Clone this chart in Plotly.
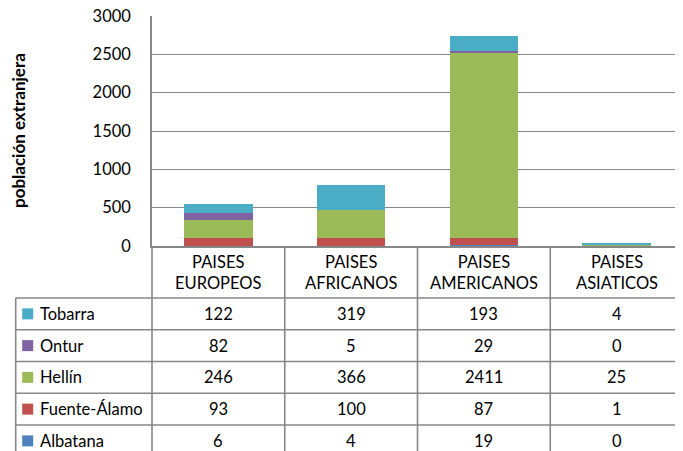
import plotly.graph_objects as go

# ---------------- data ----------------
categories = ["PAISES EUROPEOS", "PAISES AFRICANOS", "PAISES AMERICANOS", "PAISES ASIATICOS"]
series_names = ["Albatana", "Fuente-Álamo", "Hellín", "Ontur", "Tobarra"]  # bottom -> top
albatana = [6, 4, 19, 0]
fuente_alamo = [93, 100, 87, 1]
hellin = [246, 366, 2411, 25]
ontur = [82, 5, 29, 0]
tobarra = [122, 319, 193, 4]
y_ticks = [0, 500, 1000, 1500, 2000, 2500, 3000]
y_title = "población extranjera"

series_values = [albatana, fuente_alamo, hellin, ontur, tobarra]

# ---------------- style / layout ----------------
colors = ["#4F81BD", "#C0504D", "#9BBB59", "#8064A2", "#4BACC6"]
PAGE_OFFSET = 8          # default body margin of the html page
W, H = 683 - PAGE_OFFSET, 451 - PAGE_OFFSET
ML, MR, MT, MB = 152 - PAGE_OFFSET, 0, 16 - PAGE_OFFSET, 205
PH = H - MT - MB
PW = W - ML - MR
FONT = "Lato"
FS = 16.5
GRID = "#878787"
TXT = "#000000"
HEADER_H = 52
ROW_H = 31.75
LEGEND_LEFT = -136.3   # px relative to plot left edge
KEY_X = -124.3
LABEL_X = -114.3
TITLE_X = -134         # px relative to plot left edge


def py(p):
    """pixel offset below the x axis -> paper y"""
    return -p / PH


def px(p):
    """pixel offset from plot left edge -> paper x"""
    return p / PW


fig = go.Figure()
for name, vals, col in zip(series_names, series_values, colors):
    fig.add_trace(go.Bar(x=categories, y=vals, name=name,
                         marker=dict(color=col, line=dict(width=0))))

shapes = []
annotations = []
line_style = dict(color=GRID, width=1.6)
bottom = 215

# horizontal table lines (header bottom and row separators)
n_rows = len(series_names)
for k in range(n_rows):
    yy = py(HEADER_H + ROW_H * k)
    shapes.append(dict(type="line", xref="paper", yref="paper",
                       x0=px(LEGEND_LEFT), x1=1, y0=yy, y1=yy, line=line_style, layer="above"))
# legend column left border
shapes.append(dict(type="line", xref="paper", yref="paper",
                   x0=px(LEGEND_LEFT), x1=px(LEGEND_LEFT), y0=py(HEADER_H), y1=py(bottom),
                   line=line_style, layer="above"))
# vertical line below y axis
shapes.append(dict(type="line", xref="paper", yref="paper",
                   x0=0, x1=0, y0=0, y1=py(bottom), line=line_style, layer="above"))
# category column borders
for i in range(len(categories) - 1):
    shapes.append(dict(type="line", xref="x", yref="paper",
                       x0=i + 0.5, x1=i + 0.5, y0=0, y1=py(bottom), line=line_style, layer="above"))

# header texts
for c in categories:
    annotations.append(dict(x=c, xref="x", y=py(HEADER_H / 2), yref="paper",
                            text=c.replace(" ", "<br>"), showarrow=False,
                            font=dict(family=FONT, size=FS, color=TXT),
                            xanchor="center", yanchor="middle", align="center"))

# table rows: top row is the top series
for r, idx in enumerate(reversed(range(len(series_names)))):
    yc = py(HEADER_H + ROW_H * (r + 0.5))
    shapes.append(dict(type="rect", xref="paper", yref="paper",
                       xsizemode="pixel", ysizemode="pixel",
                       xanchor=px(KEY_X), yanchor=yc, x0=-5.5, x1=5.5, y0=-5.5, y1=5.5,
                       fillcolor=colors[idx], line=dict(width=0), layer="above"))
    annotations.append(dict(x=px(LABEL_X), xref="paper", y=yc, yref="paper",
                            text=series_names[idx], showarrow=False,
                            font=dict(family=FONT, size=FS, color=TXT),
                            xanchor="left", yanchor="middle"))
    for c, v in zip(categories, series_values[idx]):
        annotations.append(dict(x=c, xref="x", y=yc, yref="paper",
                                text=str(v), showarrow=False,
                                font=dict(family=FONT, size=FS, color=TXT),
                                xanchor="center", yanchor="middle"))

# y axis title
annotations.append(dict(x=px(TITLE_X), xref="paper", y=0.5, yref="paper",
                        text="<b>" + y_title + "</b>", textangle=-90, showarrow=False,
                        font=dict(family=FONT, size=17, color=TXT),
                        xanchor="center", yanchor="middle"))

fig.update_layout(
    template="none",
    width=W, height=H,
    margin=dict(l=ML, r=MR, t=MT, b=MB, autoexpand=False),
    barmode="stack",
    bargap=0.484,
    showlegend=False,
    plot_bgcolor="white",
    paper_bgcolor="white",
    font=dict(family=FONT, size=FS, color=TXT),
    shapes=shapes,
    annotations=annotations,
    xaxis=dict(type="category", categoryorder="array", categoryarray=categories,
               range=[-0.5, len(categories) - 0.5], showticklabels=False,
               showline=True, linecolor=GRID, linewidth=1.6, showgrid=False,
               ticks="", zeroline=False),
    yaxis=dict(range=[0, 3000], tickvals=y_ticks, ticktext=[str(t) for t in y_ticks],
               showline=True, linecolor=GRID, linewidth=1.6,
               showgrid=True, gridcolor=GRID, gridwidth=1.3, zeroline=False,
               ticks="", ticklabelstandoff=16, ticklabeloverflow="allow",
               tickfont=dict(family=FONT, size=FS, color=TXT)),
)

fig.write_html("out.html")
